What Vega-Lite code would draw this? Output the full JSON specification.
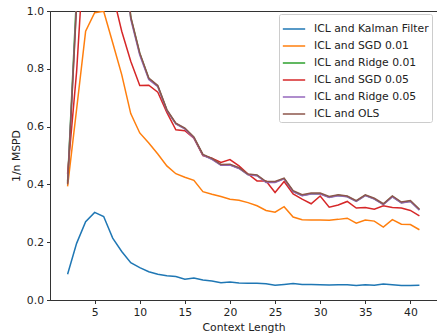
{
  "$schema": "https://vega.github.io/schema/vega-lite/v6.json",
  "width": 387,
  "height": 289,
  "autosize": {"type": "none"},
  "padding": {"left": 50, "top": 11, "right": 0, "bottom": 36},
  "background": "white",
  "config": {
    "font": "DejaVu Sans",
    "view": {"stroke": "#333", "strokeWidth": 1},
    "axis": {
      "grid": false,
      "domainColor": "#333",
      "tickColor": "#333",
      "tickSize": 3.5,
      "labelFontSize": 10.8,
      "labelColor": "#222",
      "titleFontSize": 10.8,
      "titleFontWeight": "normal",
      "titleColor": "#222",
      "labelPadding": 3
    },
    "legend": {
      "labelFontSize": 10.8,
      "labelColor": "#222",
      "symbolType": "stroke",
      "symbolSize": 500,
      "symbolStrokeWidth": 1.5,
      "labelOffset": 8,
      "rowPadding": -6,
      "padding": 3,
      "strokeColor": "#ccc",
      "fillColor": "white",
      "cornerRadius": 2
    }
  },
  "data": {
    "values": [
      {"n": 2, "kf": 0.089, "sgd1": 0.393, "ridge1": 0.41, "sgd5": 0.437, "ridge5": 0.405, "ols": 0.4},
      {"n": 3, "kf": 0.196, "sgd1": 0.66, "ridge1": 1.06, "sgd5": 0.79, "ridge5": 1.03, "ols": 1.02},
      {"n": 4, "kf": 0.271, "sgd1": 0.93, "ridge1": 1.6, "sgd5": 1.3, "ridge5": 1.6, "ols": 1.6},
      {"n": 5, "kf": 0.303, "sgd1": 0.994, "ridge1": 1.8, "sgd5": 1.5, "ridge5": 1.8, "ols": 1.8},
      {"n": 6, "kf": 0.289, "sgd1": 0.999, "ridge1": 1.7, "sgd5": 1.4, "ridge5": 1.7, "ols": 1.7},
      {"n": 7, "kf": 0.214, "sgd1": 0.89, "ridge1": 1.5, "sgd5": 1.06, "ridge5": 1.5, "ols": 1.5},
      {"n": 8, "kf": 0.168, "sgd1": 0.78, "ridge1": 1.3, "sgd5": 0.93, "ridge5": 1.3, "ols": 1.3},
      {"n": 9, "kf": 0.129, "sgd1": 0.645, "ridge1": 0.978, "sgd5": 0.826, "ridge5": 0.972, "ols": 0.98},
      {"n": 10, "kf": 0.112, "sgd1": 0.578, "ridge1": 0.853, "sgd5": 0.742, "ridge5": 0.848, "ols": 0.855},
      {"n": 11, "kf": 0.098, "sgd1": 0.543, "ridge1": 0.766, "sgd5": 0.743, "ridge5": 0.763, "ols": 0.768},
      {"n": 12, "kf": 0.089, "sgd1": 0.505, "ridge1": 0.74, "sgd5": 0.719, "ridge5": 0.738, "ols": 0.742},
      {"n": 13, "kf": 0.084, "sgd1": 0.464, "ridge1": 0.657, "sgd5": 0.649, "ridge5": 0.656, "ols": 0.659},
      {"n": 14, "kf": 0.081, "sgd1": 0.437, "ridge1": 0.61, "sgd5": 0.589, "ridge5": 0.609, "ols": 0.612},
      {"n": 15, "kf": 0.072, "sgd1": 0.425, "ridge1": 0.593, "sgd5": 0.586, "ridge5": 0.592, "ols": 0.595},
      {"n": 16, "kf": 0.076, "sgd1": 0.414, "ridge1": 0.562, "sgd5": 0.56, "ridge5": 0.561, "ols": 0.564},
      {"n": 17, "kf": 0.069, "sgd1": 0.375, "ridge1": 0.502, "sgd5": 0.5, "ridge5": 0.501, "ols": 0.504},
      {"n": 18, "kf": 0.066, "sgd1": 0.366, "ridge1": 0.488, "sgd5": 0.491, "ridge5": 0.487, "ols": 0.49},
      {"n": 19, "kf": 0.06, "sgd1": 0.358, "ridge1": 0.467, "sgd5": 0.476, "ridge5": 0.466, "ols": 0.469},
      {"n": 20, "kf": 0.062, "sgd1": 0.349, "ridge1": 0.468, "sgd5": 0.486, "ridge5": 0.467, "ols": 0.47},
      {"n": 21, "kf": 0.059, "sgd1": 0.345, "ridge1": 0.456, "sgd5": 0.464, "ridge5": 0.455, "ols": 0.458},
      {"n": 22, "kf": 0.058, "sgd1": 0.337, "ridge1": 0.434, "sgd5": 0.436, "ridge5": 0.433, "ols": 0.436},
      {"n": 23, "kf": 0.058, "sgd1": 0.326, "ridge1": 0.431, "sgd5": 0.412, "ridge5": 0.43, "ols": 0.433},
      {"n": 24, "kf": 0.056, "sgd1": 0.31, "ridge1": 0.408, "sgd5": 0.412, "ridge5": 0.407, "ols": 0.41},
      {"n": 25, "kf": 0.051, "sgd1": 0.304, "ridge1": 0.408, "sgd5": 0.372, "ridge5": 0.407, "ols": 0.41},
      {"n": 26, "kf": 0.054, "sgd1": 0.323, "ridge1": 0.42, "sgd5": 0.41, "ridge5": 0.419, "ols": 0.422},
      {"n": 27, "kf": 0.057, "sgd1": 0.287, "ridge1": 0.376, "sgd5": 0.367, "ridge5": 0.375, "ols": 0.378},
      {"n": 28, "kf": 0.054, "sgd1": 0.278, "ridge1": 0.362, "sgd5": 0.349, "ridge5": 0.361, "ols": 0.364},
      {"n": 29, "kf": 0.054, "sgd1": 0.277, "ridge1": 0.368, "sgd5": 0.333, "ridge5": 0.367, "ols": 0.37},
      {"n": 30, "kf": 0.053, "sgd1": 0.277, "ridge1": 0.368, "sgd5": 0.36, "ridge5": 0.367, "ols": 0.37},
      {"n": 31, "kf": 0.052, "sgd1": 0.276, "ridge1": 0.356, "sgd5": 0.321, "ridge5": 0.355, "ols": 0.358},
      {"n": 32, "kf": 0.053, "sgd1": 0.279, "ridge1": 0.362, "sgd5": 0.329, "ridge5": 0.361, "ols": 0.364},
      {"n": 33, "kf": 0.053, "sgd1": 0.283, "ridge1": 0.358, "sgd5": 0.341, "ridge5": 0.357, "ols": 0.36},
      {"n": 34, "kf": 0.05, "sgd1": 0.266, "ridge1": 0.342, "sgd5": 0.318, "ridge5": 0.341, "ols": 0.344},
      {"n": 35, "kf": 0.053, "sgd1": 0.277, "ridge1": 0.362, "sgd5": 0.32, "ridge5": 0.361, "ols": 0.364},
      {"n": 36, "kf": 0.051, "sgd1": 0.273, "ridge1": 0.35, "sgd5": 0.314, "ridge5": 0.349, "ols": 0.352},
      {"n": 37, "kf": 0.055, "sgd1": 0.252, "ridge1": 0.331, "sgd5": 0.326, "ridge5": 0.33, "ols": 0.333},
      {"n": 38, "kf": 0.053, "sgd1": 0.278, "ridge1": 0.358, "sgd5": 0.32, "ridge5": 0.357, "ols": 0.36},
      {"n": 39, "kf": 0.05, "sgd1": 0.262, "ridge1": 0.337, "sgd5": 0.318, "ridge5": 0.336, "ols": 0.339},
      {"n": 40, "kf": 0.05, "sgd1": 0.261, "ridge1": 0.342, "sgd5": 0.31, "ridge5": 0.341, "ols": 0.344},
      {"n": 41, "kf": 0.051, "sgd1": 0.243, "ridge1": 0.312, "sgd5": 0.291, "ridge5": 0.311, "ols": 0.314}
    ]
  },
  "transform": [
    {"fold": ["kf", "sgd1", "ridge1", "sgd5", "ridge5", "ols"], "as": ["series", "value"]}
  ],
  "mark": {"type": "line", "clip": true, "strokeWidth": 1.5},
  "encoding": {
    "x": {
      "field": "n",
      "type": "quantitative",
      "title": "Context Length",
      "scale": {"domain": [0.05, 42.95], "nice": false, "zero": false},
      "axis": {"values": [5, 10, 15, 20, 25, 30, 35, 40], "titlePadding": 4}
    },
    "y": {
      "field": "value",
      "type": "quantitative",
      "title": "1/n MSPD",
      "scale": {"domain": [0, 1], "nice": false},
      "axis": {"values": [0, 0.2, 0.4, 0.6, 0.8, 1.0], "format": ".1f", "titlePadding": 5}
    },
    "color": {
      "field": "series",
      "type": "nominal",
      "scale": {
        "domain": ["kf", "sgd1", "ridge1", "sgd5", "ridge5", "ols"],
        "range": ["#1f77b4", "#ff7f0e", "#2ca02c", "#d62728", "#9467bd", "#8c564b"]
      },
      "legend": {
        "title": null,
        "orient": "none",
        "legendX": 229,
        "legendY": 3,
        "labelExpr": "{'kf': 'ICL and Kalman Filter', 'sgd1': 'ICL and SGD 0.01', 'ridge1': 'ICL and Ridge 0.01', 'sgd5': 'ICL and SGD 0.05', 'ridge5': 'ICL and Ridge 0.05', 'ols': 'ICL and OLS'}[datum.value]"
      }
    }
  }
}
